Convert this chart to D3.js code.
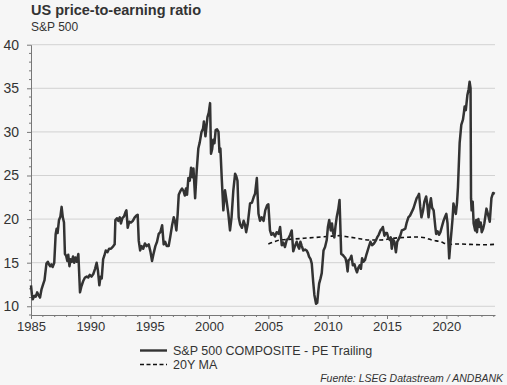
<!DOCTYPE html>
<html>
<head>
<meta charset="utf-8">
<script src="https://cdn.jsdelivr.net/npm/d3@7"></script>
<style>
  html, body { margin: 0; padding: 0; background: #f6f6f6; }
  svg { display: block; font-family: "Liberation Sans", Arial, sans-serif; }
</style>
</head>
<body>
<svg id="chart"></svg>
<script>
// S&P 500 trailing PE, [decimal year, value]
var peSeries = [
  [1985.00, 12.4], [1985.08, 11.3], [1985.15, 10.8], [1985.28, 11.2], [1985.40, 11.1], [1985.52, 11.6],
  [1985.62, 11.3], [1985.76, 11.0], [1985.88, 11.9], [1986.04, 12.6], [1986.14, 13.0], [1986.30, 14.9],
  [1986.42, 15.1], [1986.52, 14.8], [1986.62, 14.6], [1986.72, 14.8], [1986.82, 14.5], [1986.96, 15.0],
  [1987.08, 18.3], [1987.16, 18.9], [1987.24, 18.4], [1987.36, 19.9], [1987.48, 20.3], [1987.58, 21.4],
  [1987.68, 20.2], [1987.78, 19.6], [1987.86, 16.0], [1987.96, 15.8], [1988.06, 15.2], [1988.14, 15.9],
  [1988.24, 14.6], [1988.34, 15.4], [1988.44, 15.1], [1988.54, 15.7], [1988.64, 15.0], [1988.74, 15.6],
  [1988.86, 15.1], [1988.99, 16.0], [1989.13, 11.6], [1989.25, 12.3], [1989.40, 12.9], [1989.55, 13.3],
  [1989.69, 13.4], [1989.82, 13.3], [1989.95, 13.6], [1990.10, 13.4], [1990.25, 13.7], [1990.40, 14.3],
  [1990.53, 15.0], [1990.64, 14.1], [1990.76, 12.4], [1990.86, 13.4], [1990.96, 13.2], [1991.08, 15.4],
  [1991.18, 15.8], [1991.30, 16.4], [1991.44, 16.2], [1991.58, 16.6], [1991.74, 16.6], [1991.94, 16.9],
  [1992.05, 17.1], [1992.11, 19.9], [1992.24, 20.1], [1992.36, 19.8], [1992.48, 20.2], [1992.58, 19.5],
  [1992.70, 20.1], [1992.84, 20.3], [1992.96, 20.8], [1993.04, 21.0], [1993.15, 19.0], [1993.28, 19.7],
  [1993.42, 19.6], [1993.58, 19.8], [1993.74, 20.2], [1993.88, 20.4], [1993.99, 20.5], [1994.08, 17.5],
  [1994.20, 16.4], [1994.32, 16.9], [1994.46, 16.6], [1994.60, 17.2], [1994.74, 16.9], [1994.92, 17.1],
  [1995.06, 16.3], [1995.20, 15.2], [1995.34, 16.1], [1995.48, 16.9], [1995.62, 17.4], [1995.76, 18.3],
  [1995.90, 18.5], [1996.05, 19.3], [1996.18, 17.1], [1996.30, 17.4], [1996.44, 16.9], [1996.60, 16.9],
  [1996.74, 18.0], [1996.89, 19.3], [1997.03, 20.2], [1997.14, 19.7], [1997.25, 18.7], [1997.36, 20.6],
  [1997.45, 22.8], [1997.58, 23.2], [1997.73, 23.5], [1997.86, 23.2], [1997.96, 22.7], [1998.06, 23.5],
  [1998.15, 22.8], [1998.26, 24.7], [1998.38, 24.4], [1998.49, 25.9], [1998.60, 24.8], [1998.69, 25.8],
  [1998.83, 22.4], [1998.96, 25.5], [1999.10, 28.1], [1999.22, 28.8], [1999.37, 30.0], [1999.50, 30.4],
  [1999.57, 31.2], [1999.70, 29.5], [1999.87, 31.7], [1999.98, 32.2], [2000.09, 33.3], [2000.17, 27.5],
  [2000.26, 28.0], [2000.36, 29.1], [2000.46, 28.7], [2000.56, 30.2], [2000.68, 30.3], [2000.80, 30.0],
  [2000.88, 27.7], [2000.96, 28.1], [2001.08, 24.5], [2001.21, 21.0], [2001.35, 23.3], [2001.48, 22.1],
  [2001.63, 20.6], [2001.77, 18.7], [2001.90, 20.2], [2002.05, 23.3], [2002.20, 25.2], [2002.30, 24.9],
  [2002.40, 24.4], [2002.50, 20.2], [2002.62, 19.4], [2002.78, 19.0], [2002.92, 19.8], [2003.04, 19.3],
  [2003.13, 18.5], [2003.26, 19.4], [2003.46, 21.8], [2003.62, 21.9], [2003.76, 22.5], [2003.88, 22.9],
  [2004.03, 24.7], [2004.17, 20.6], [2004.30, 19.8], [2004.44, 20.2], [2004.60, 19.8], [2004.74, 21.0],
  [2004.90, 21.6], [2005.00, 21.7], [2005.14, 18.7], [2005.26, 18.2], [2005.40, 18.4], [2005.56, 18.0],
  [2005.70, 18.5], [2005.86, 18.3], [2005.99, 19.1], [2006.13, 17.0], [2006.26, 17.3], [2006.40, 16.8],
  [2006.55, 17.6], [2006.70, 17.8], [2006.84, 18.2], [2006.97, 18.7], [2007.10, 16.3], [2007.24, 16.9],
  [2007.39, 17.4], [2007.50, 16.9], [2007.60, 16.6], [2007.70, 17.4], [2007.82, 16.9], [2007.95, 16.4],
  [2008.10, 16.5], [2008.23, 16.4], [2008.34, 16.1], [2008.43, 15.7], [2008.56, 15.4], [2008.66, 14.9],
  [2008.78, 12.8], [2008.88, 11.3], [2009.02, 10.3], [2009.12, 10.4], [2009.20, 11.6], [2009.28, 12.6],
  [2009.40, 13.2], [2009.50, 13.8], [2009.65, 16.4], [2009.78, 16.8], [2009.92, 17.6], [2010.02, 19.1],
  [2010.13, 19.9], [2010.26, 18.7], [2010.36, 19.5], [2010.46, 18.4], [2010.56, 17.9], [2010.66, 19.2],
  [2010.76, 20.2], [2010.90, 21.2], [2011.00, 22.2], [2011.14, 16.0], [2011.26, 15.9], [2011.38, 15.7],
  [2011.50, 15.5], [2011.60, 14.9], [2011.68, 14.0], [2011.76, 15.3], [2011.88, 15.4], [2012.00, 15.8],
  [2012.12, 14.7], [2012.26, 14.8], [2012.36, 14.3], [2012.47, 13.9], [2012.58, 14.4], [2012.70, 14.7],
  [2012.80, 14.3], [2012.90, 15.5], [2013.02, 15.1], [2013.14, 15.3], [2013.24, 15.8], [2013.33, 16.2],
  [2013.46, 16.8], [2013.60, 17.4], [2013.74, 17.0], [2013.90, 17.2], [2014.04, 17.5], [2014.17, 17.9],
  [2014.30, 18.2], [2014.45, 18.7], [2014.58, 18.9], [2014.65, 19.1], [2014.78, 18.1], [2014.88, 18.4],
  [2015.00, 18.4], [2015.12, 17.8], [2015.24, 17.6], [2015.32, 17.9], [2015.40, 16.6], [2015.50, 17.7],
  [2015.62, 17.4], [2015.75, 16.2], [2015.86, 17.4], [2015.98, 17.7], [2016.12, 18.1], [2016.25, 18.7],
  [2016.40, 18.8], [2016.54, 18.9], [2016.66, 19.6], [2016.80, 20.2], [2016.94, 20.4], [2017.08, 20.8],
  [2017.22, 21.2], [2017.36, 21.8], [2017.50, 22.4], [2017.60, 22.6], [2017.70, 22.9], [2017.80, 21.4],
  [2017.90, 20.2], [2018.04, 21.0], [2018.15, 22.0], [2018.30, 22.6], [2018.40, 21.6], [2018.50, 20.2],
  [2018.60, 21.6], [2018.70, 22.4], [2018.80, 21.3], [2018.93, 21.0], [2019.07, 19.1], [2019.14, 18.3],
  [2019.26, 18.6], [2019.38, 18.2], [2019.50, 18.5], [2019.62, 19.1], [2019.76, 19.8], [2019.90, 20.3],
  [2020.00, 20.6], [2020.10, 19.5], [2020.24, 15.5], [2020.34, 17.2], [2020.44, 18.7], [2020.52, 20.0],
  [2020.60, 21.8], [2020.70, 21.1], [2020.80, 20.6], [2020.90, 21.9], [2020.98, 23.7], [2021.12, 28.7],
  [2021.26, 30.8], [2021.40, 31.4], [2021.48, 32.2], [2021.54, 32.9], [2021.64, 32.5], [2021.77, 34.2],
  [2021.88, 34.9], [2021.96, 35.75], [2022.04, 35.0], [2022.08, 22.4], [2022.13, 21.0], [2022.22, 22.0],
  [2022.30, 19.5], [2022.43, 18.7], [2022.52, 19.9], [2022.58, 18.5], [2022.70, 20.0], [2022.80, 19.1],
  [2022.90, 19.6], [2022.98, 18.5], [2023.10, 18.9], [2023.20, 19.5], [2023.38, 21.2], [2023.50, 20.6],
  [2023.66, 19.7], [2023.80, 22.4], [2023.94, 23.0], [2024.08, 22.9]
]

// 20 year moving average
var maSeries = [
  [2005.00, 17.15], [2005.50, 17.4], [2006.00, 17.6], [2007.00, 17.7], [2008.00, 17.8], [2009.00, 17.9],
  [2010.00, 18.0], [2011.00, 18.1], [2011.50, 18.0], [2012.50, 17.8], [2013.50, 17.6], [2014.50, 17.6],
  [2015.50, 17.8], [2016.50, 17.9], [2017.50, 17.95], [2018.20, 17.85], [2018.80, 17.6], [2019.50, 17.4],
  [2020.20, 17.1], [2021.00, 17.15], [2022.00, 17.1], [2023.00, 17.05], [2024.08, 17.1]
]

var yearTicks = [1985, 1990, 1995, 2000, 2005, 2010, 2015, 2020]
var valueTicks = [10, 15, 20, 25, 30, 35, 40]
var seriesNames = ["S&P 500 COMPOSITE - PE Trailing", "20Y MA"]

var width = 507,
  height = 385,
  plot = { left: 31, right: 495, top: 44.7, bottom: 315 }

var svg = d3.select("#chart")
  .attr("width", width)
  .attr("height", height)

svg.append("rect")
  .attr("width", width)
  .attr("height", height)
  .attr("fill", "#f6f6f6")

var x = d3.scaleLinear()
  .domain([1985, 2024.1])
  .range([plot.left, plot.right])

var y = d3.scaleLinear()
  .domain([9, 40])
  .range([plot.bottom, plot.top])

// gridlines
svg.append("g")
  .selectAll("line")
  .data(valueTicks)
  .enter()
  .append("line")
  .attr("x1", plot.left)
  .attr("x2", plot.right)
  .attr("y1", function (d) { return y(d) })
  .attr("y2", function (d) { return y(d) })
  .attr("stroke", "#d2d2d2")
  .attr("stroke-width", 1)

// minor ticks (every unit / every year)
var minorY = d3.range(9, 41).filter(function (d) { return d % 5 !== 0 })
var minorX = d3.range(1986, 2025).filter(function (d) { return d % 5 !== 0 })

var yAxis = d3.axisLeft(y)
  .tickValues(valueTicks)
  .tickSize(4)
  .tickSizeOuter(0)
  .tickPadding(8)

var xAxis = d3.axisBottom(x)
  .tickValues(yearTicks)
  .tickFormat(d3.format("d"))
  .tickSize(4)
  .tickSizeOuter(0)
  .tickPadding(3)

var gy = svg.append("g")
  .attr("transform", "translate(" + plot.left + ",0)")
  .call(yAxis)
gy.selectAll(".minor")
  .data(minorY)
  .enter()
  .append("line")
  .attr("class", "minor")
  .attr("x1", -2)
  .attr("x2", 0)
  .attr("y1", function (d) { return y(d) })
  .attr("y2", function (d) { return y(d) })
  .attr("stroke", "#777")

var gx = svg.append("g")
  .attr("transform", "translate(0," + plot.bottom + ")")
  .call(xAxis)
gx.selectAll(".minor")
  .data(minorX)
  .enter()
  .append("line")
  .attr("class", "minor")
  .attr("x1", function (d) { return x(d) })
  .attr("x2", function (d) { return x(d) })
  .attr("y1", 0)
  .attr("y2", 2)
  .attr("stroke", "#777")

svg.selectAll(".domain").attr("stroke", "#777")
svg.selectAll(".tick line").attr("stroke", "#777")
gy.selectAll(".tick text")
  .attr("font-size", 14)
  .attr("fill", "#333")
gx.selectAll(".tick text")
  .attr("font-size", 13)
  .attr("fill", "#333")
svg.selectAll(".tick text").attr("font-family", "Liberation Sans, Arial, sans-serif")

var line = d3.line()
  .x(function (d) { return x(d[0]) })
  .y(function (d) { return y(d[1]) })

svg.append("path")
  .datum(maSeries)
  .attr("d", line.curve(d3.curveMonotoneX))
  .attr("fill", "none")
  .attr("stroke", "#111")
  .attr("stroke-width", 1.6)
  .attr("stroke-dasharray", "4,3")

svg.append("path")
  .datum(peSeries)
  .attr("d", line.curve(d3.curveLinear))
  .attr("fill", "none")
  .attr("stroke", "#333")
  .attr("stroke-width", 2.5)
  .attr("stroke-linejoin", "round")

// titles
svg.append("text")
  .attr("x", 31)
  .attr("y", 14.5)
  .attr("font-size", 14.5)
  .attr("font-weight", "bold")
  .attr("fill", "#333")
  .text("US price-to-earning ratio")

svg.append("text")
  .attr("x", 31)
  .attr("y", 31)
  .attr("font-size", 12)
  .attr("fill", "#333")
  .text("S&P 500")

// legend
var legend = svg.append("g")
  .selectAll("g")
  .data(seriesNames)
  .enter()
  .append("g")
  .attr("transform", function (d, i) { return "translate(140," + (350.5 + i * 14) + ")" })

legend.append("line")
  .attr("x1", 0)
  .attr("x2", 27)
  .attr("stroke", function (d, i) { return i === 0 ? "#333" : "#111" })
  .attr("stroke-width", function (d, i) { return i === 0 ? 2.4 : 1.6 })
  .attr("stroke-dasharray", function (d, i) { return i === 0 ? null : "4,2.5" })

legend.append("text")
  .attr("x", 33)
  .attr("y", 4.5)
  .attr("font-size", 12.5)
  .attr("fill", "#333")
  .text(function (d) { return d })

svg.append("text")
  .attr("x", 503)
  .attr("y", 382)
  .attr("text-anchor", "end")
  .attr("font-size", 10.5)
  .attr("font-style", "italic")
  .attr("fill", "#333")
  .text("Fuente: LSEG Datastream / ANDBANK")
</script>
</body>
</html>
